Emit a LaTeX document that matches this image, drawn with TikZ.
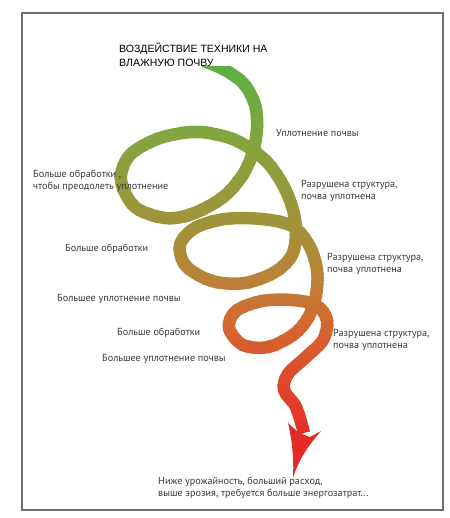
\documentclass[tikz,border=0pt]{standalone}
\usepackage{fontspec}
\setmainfont{PT Sans}
\newfontfamily\headfont{Liberation Sans}
\usepackage{tikz}
\usetikzlibrary{calc,positioning}

\definecolor{spA}{HTML}{5DB046}
\definecolor{spB}{HTML}{84A43E}
\definecolor{spC}{HTML}{9E953A}
\definecolor{spD}{HTML}{BA8238}
\definecolor{spE}{HTML}{D26A30}
\definecolor{spF}{HTML}{DE4E2C}
\definecolor{spG}{HTML}{E52A2A}
\definecolor{txt}{HTML}{3A3A3A}
\definecolor{boxc}{HTML}{707070}

% centre line of the spiral
\newcommand{\spiralpath}{plot[smooth, tension=0.55] coordinates {
	(204,61) (225,70) (244,84) (255,105) (257,128) (253,152) (242,176) (222,198)
	(192,214) (165,218) (135,207) (121,180) (130,155) (160,138) (198,132) (235,140)
	(265,160) (283,185) (293,210) (296,232) (292,255) (275,272) (245,283) (212,281)
	(186,266) (180,245) (195,228) (225,219) (262,219) (292,226) (309,245) (317,270)
	(316,295) (308,318) (293,335) (268,347) (243,345) (229,328) (236,311) (262,301)
	(292,300) (316,305) (327,320) (323,340) (306,357) (288,374) (284,390)
	(296,407) (304,433)}}

\begin{document}
\begin{tikzpicture}[x=0.3mm, y=-0.3mm, auto,
		lbl/.style={draw=none, inner sep=0pt, anchor=west, align=left, text=txt,
			font=\fontsize{8.7}{10.2}\selectfont},
		band/.style={line width=3.75mm, line cap=butt, line join=round}]
	\useasboundingbox (0,0) rectangle (450,518);
	\draw[boxc, line width=0.35mm] (22,13) rectangle (443,510);
	
	% spiral, coloured strip by strip from top to bottom
	\foreach \ya/\yb/\ca/\cb in {67/140/spA/spB, 140/215/spB/spC, 215/280/spC/spD,
			280/320/spD/spE, 320/370/spE/spF, 370/440/spF/spG}{
		\foreach \k in {0,...,9}{
			\pgfmathsetmacro{\ylo}{\ya+(\yb-\ya)*\k/10}
			\pgfmathsetmacro{\yhi}{\ya+(\yb-\ya)*(\k+1)/10+0.8}
			\pgfmathtruncatemacro{\pct}{\k*10+5}
			\begin{scope}
				\clip (100,\ylo) rectangle (340,\yhi);
				\draw[band, draw=\cb!\pct!\ca] \spiralpath;
			\end{scope}
		}
	}
	% arrow head
	\fill[spG] (288,423) -- (299,433) -- (310,437) -- (321,431)
		.. controls (306,448) and (298,462) .. (293,478)
		.. controls (294,458) and (292,440) .. (288,423) -- cycle;
	
	\node[lbl, text=black, font=\headfont\fontsize{9}{11.95}\selectfont] (T) at (119,55)
		{ВОЗДЕЙСТВИЕ ТЕХНИКИ НА\\ВЛАЖНУЮ ПОЧВУ};
	\node[lbl] (U1) at (276,133) {Уплотнение почвы};
	\node[lbl] (B1) at (33,181) {Больше обработки ,\\чтобы преодолеть уплотнение};
	\node[lbl] (R1) at (301,191) {Разрушена структура,\\почва уплотнена};
	\node[lbl] (B2) at (65,249) {Больше обработки};
	\node[lbl] (R2) at (327,264) {Разрушена структура,\\почва уплотнена};
	\node[lbl] (U2) at (57,299) {Большее уплотнение почвы};
	\node[lbl] (B3) at (117,333) {Больше обработки};
	\node[lbl] (R3) at (333,340) {Разрушена структура,\\почва уплотнена};
	\node[lbl] (U3) at (102,359) {Большее уплотнение почвы};
	\node[lbl] (N) at (158,488)
		{Ниже урожайность, больший расход,\\выше эрозия, требуется больше энергозатрат...};
\end{tikzpicture}
\end{document}
